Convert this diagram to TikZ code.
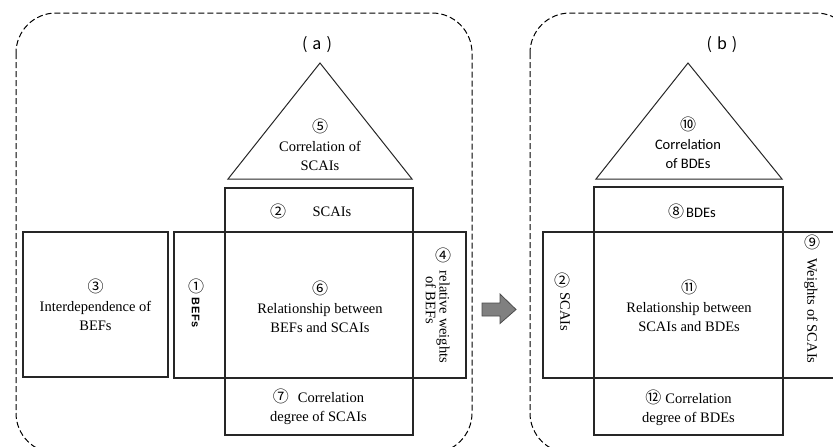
\documentclass[tikz,border=0pt]{standalone}
\usepackage{fontspec}
\usepackage{graphicx}
\setmainfont{Liberation Serif}
\newfontfamily\cjkf{Noto Sans CJK SC}
\newfontfamily\calf{Carlito}
\newfontfamily\arsp[LetterSpace=6]{Liberation Sans}
\newcommand\cd[1]{{\cjkf\fontsize{16}{16}\selectfont #1}}
\begin{document}
\begin{tikzpicture}[x=1pt,y=-1pt,
  frame/.style={draw=black, line width=1pt, dash pattern=on 6pt off 3pt},
  blk/.style={draw=black!85, line width=1.1pt, inner sep=0pt},
  lbl/.style={inner sep=0pt, align=center, font=\fontsize{14.5}{19}\selectfont},
  vt/.style={inner sep=0pt, rotate=-90, font=\fontsize{14.5}{19}\selectfont},
  sn/.style={inner sep=0pt, align=center, font=\calf\fontsize{14.5}{19}\selectfont},
  tag/.style={inner sep=0pt, font=\cjkf\fontsize{16}{16}\selectfont},
  dig/.style={inner sep=0pt}]
\useasboundingbox (0,0) rectangle (833,447);
\begin{scope}
\clip (0,0) rectangle (833,447);
% dashed frames
\draw[frame, rounded corners=40pt] (16,13) rectangle (472,453);
\draw[frame, rounded corners=40pt] (530,13) rectangle (856,453);

% ---------- (a) ----------
\node[tag] (la) at (317,45) {(\hspace{5pt}a\hspace{5pt})};
\coordinate (ta) at (320,63);
\coordinate (tal) at (228,179);
\coordinate (tar) at (412,179);
\draw[draw=black!85, line width=1pt, line join=miter] (ta) -- (tal) -- (tar) -- cycle;
\node[lbl] (t5) at (320,145) {\cd{⑤}\\Correlation of\\SCAIs};

\node[blk, minimum width=188, minimum height=44] (n2a) at (319,210) {};
\node[dig] (d2a) at (278,211) {\cd{②}};
\node[lbl] (s2a) at (332,212) {SCAIs};

\node[blk, minimum width=145, minimum height=145] (n3) at (95.5,304.5) {};
\node[lbl] (t3) at (95.5,305) {\cd{③}\\Interdependence of\\BEFs};

\node[blk, minimum width=51, minimum height=146] (n1) at (199.5,305) {};
\node[dig] (d1) at (196,286) {\cd{①}};
\node[inner sep=0pt, rotate=-90, font=\arsp\bfseries\fontsize{11}{12}\selectfont] (s1) at (195.5,313) {BEFs};

\node[blk, minimum width=188, minimum height=146] (n6) at (319,305) {};
\node[lbl] (t6) at (320,307) {\cd{⑥}\\Relationship between\\BEFs and SCAIs};

\node[blk, minimum width=53, minimum height=146] (n4) at (439.5,305) {};
\node[dig] (d4) at (443,255) {\cd{④}};
\node[vt] (s4a) at (443,317) {relative weights};
\node[vt] (s4b) at (431,300) {of BEFs};

\node[blk, minimum width=188, minimum height=57] (n7) at (319,406.5) {};
\node[lbl] (t7) at (318.5,407) {\cd{⑦}\hspace{9pt}Correlation\\degree of SCAIs};

% ---------- arrow ----------
\coordinate (arr) at (482,309.5);
\draw[fill=black!50, draw=black!70, line width=0.8pt, line join=miter]
  (arr) ++(0,-6.5) -- ++(18,0) -- ++(0,-9) -- ++(16,15.5) -- ++(-16,14) -- ++(0,-7.5) -- ++(-18,0) -- cycle;

% ---------- (b) ----------
\node[tag] (lb) at (722,45) {(\hspace{5pt}b\hspace{5pt})};
\coordinate (tb) at (688,63);
\coordinate (tbl) at (596,179);
\coordinate (tbr) at (782,179);
\draw[draw=black!85, line width=1pt, line join=miter] (tb) -- (tbl) -- (tbr) -- cycle;
\node[sn] (t10) at (688,143) {\cd{⑩}\\Correlation\\of BDEs};

\node[blk, minimum width=189, minimum height=45] (n8) at (688.5,209.5) {};
\node[sn] (t8) at (692,211) {\cd{⑧}\hspace{2pt}BDEs};

\node[blk, minimum width=51, minimum height=146] (n2b) at (568.5,305) {};
\node[dig] (d2b) at (562,280) {\cd{②}};
\node[vt] (s2b) at (565,312) {SCAIs};

\node[blk, minimum width=189, minimum height=146] (n11) at (688.5,305) {};
\node[lbl] (t11) at (689,306) {\cd{⑪}\\Relationship between\\SCAIs and BDEs};

\node[blk, minimum width=90, minimum height=146] (n9) at (828,305) {};
\node[dig] (d9) at (812,242) {\cd{⑨}};
\node[vt] (s9) at (811,311) {Weights of SCAIs};

\node[blk, minimum width=189, minimum height=57] (n12) at (688.5,406.5) {};
\node[lbl] (t12) at (688.5,408) {\cd{⑫}\hspace{4pt}Correlation\\degree of BDEs};
\end{scope}
\end{tikzpicture}
\end{document}
